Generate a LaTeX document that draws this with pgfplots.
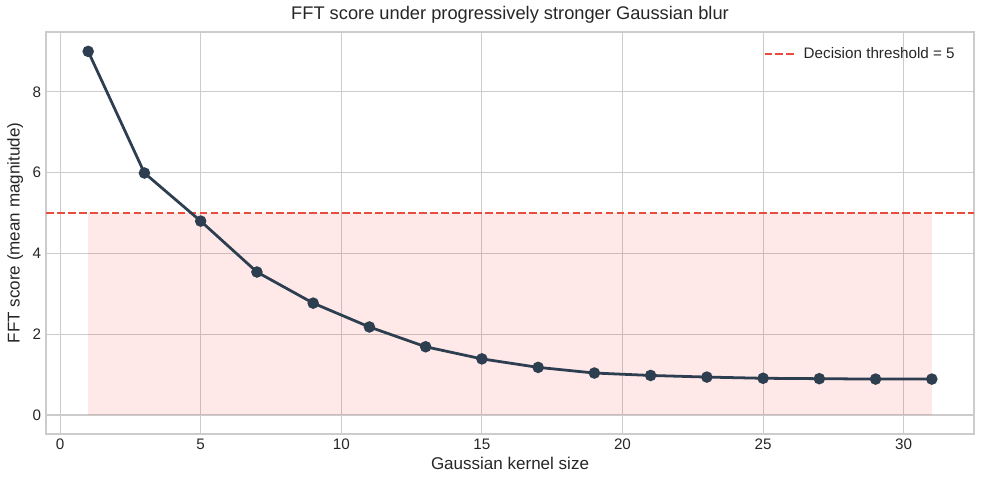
\documentclass[border=0pt]{standalone}
\usepackage{fontspec}
\setmainfont{Liberation Sans}
\usepackage{pgfplots}
\pgfplotsset{compat=1.18}
\usetikzlibrary{calc}

\definecolor{linecol}{HTML}{2C3E50}
\definecolor{thrcol}{HTML}{E74C3C}
\definecolor{gridcol}{HTML}{CCCCCC}
\definecolor{txtcol}{HTML}{262626}
\definecolor{shade}{RGB}{255,0,0}

\begin{document}
\begin{tikzpicture}
\begin{axis}[
    scale only axis,
    width=668bp, height=289.4bp,
    xmin=-0.5, xmax=32.5,
    ymin=-0.47, ymax=9.48,
    xtick={0,5,10,15,20,25,30},
    ytick={0,2,4,6,8},
    major tick length=0pt,
    grid=major,
    grid style={gridcol, line width=0.8bp},
    axis line style={gridcol, line width=0.9bp},
    tick label style={font=\fontsize{11}{13}\selectfont, text=txtcol},
    /pgf/number format/assume math mode=true,
    xlabel={Gaussian kernel size},
    ylabel={FFT score (mean magnitude)},
    label style={font=\fontsize{12.3}{14}\selectfont, text=txtcol},
    title={FFT score under progressively stronger Gaussian blur},
    title style={font=\fontsize{13.2}{15}\selectfont, text=txtcol, yshift=-3bp},
    xlabel style={yshift=1.5bp},
    ylabel style={yshift=0bp},
    legend style={at={(rel axis cs:0.987,0.975)}, anchor=north east,
        draw=none, fill=none, font=\fontsize{11}{13}\selectfont, text=txtcol,
        /tikz/column sep=4bp},
    legend image code/.code={\draw[#1] (0bp,0bp) -- (21.5bp,0bp);},
]
\addplot[draw=none, fill=shade, fill opacity=0.09, forget plot]
    coordinates {(1,0) (1,5) (31,5) (31,0)} -- cycle;

\addplot[thrcol, line width=1.4bp, dash pattern=on 5.5bp off 2.4bp]
    coordinates {(-0.5,5) (32.5,5)};
\addlegendentry{Decision threshold = 5}

\addplot[linecol, line width=2bp, mark=*, mark size=3.1bp,
    mark options={fill=linecol, draw=none}, forget plot]
    coordinates {
    (1, 9.00)
    (3, 5.99)
    (5, 4.80)
    (7, 3.54)
    (9, 2.77)
    (11, 2.18)
    (13, 1.69)
    (15, 1.39)
    (17, 1.18)
    (19, 1.04)
    (21, 0.98)
    (23, 0.94)
    (25, 0.91)
    (27, 0.90)
    (29, 0.89)
    (31, 0.89)
};
\end{axis}
\pgfresetboundingbox
\path[use as bounding box]
    ($(current axis.south west)+(-46bp*0.72,-50bp*0.72)$)
    rectangle ($(current axis.north east)+(10bp*0.72,32bp*0.72)$);
\end{tikzpicture}
\end{document}
